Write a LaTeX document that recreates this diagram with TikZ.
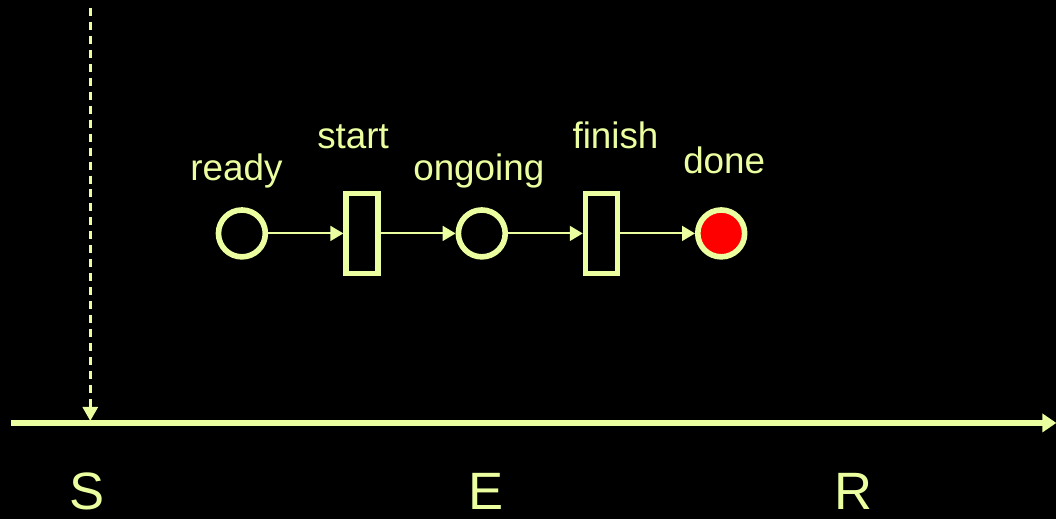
\documentclass[tikz,border=0pt]{standalone}
\usepackage{fontspec}
\setmainfont{Liberation Sans}
\usetikzlibrary{arrows.meta}
\definecolor{pale}{RGB}{235,255,160}
\definecolor{token}{RGB}{255,0,0}
\tikzset{
  place/.style={circle, draw=pale, line width=3.2pt, minimum size=0.94cm, inner sep=0pt},
  trans/.style={rectangle, draw=pale, line width=3.2pt, minimum width=0.64cm, minimum height=1.6cm, inner sep=0pt},
  arc/.style={pale, line width=1.1pt, -{Triangle[length=0.26cm,width=0.3cm]}},
  lbl/.style={text=pale, anchor=base, inner sep=0pt, font=\fontsize{21}{24}\selectfont},
  axislbl/.style={text=pale, anchor=base, inner sep=0pt, text depth=0pt, font=\fontsize{30}{36}\selectfont},
}
\begin{document}
\begin{tikzpicture}[x=0.02cm, y=-0.02cm]
        \fill[black] (0, 0) rectangle (1059, 520);
        % the net
        \node[place] (ready) at (242.5, 234) {};
        \node[trans] (start) at (363, 234) {};
        \node[place] (ongoing) at (483, 234) {};
        \node[trans] (finish) at (603, 234) {};
        \node[place, fill=token] (done) at (723, 234) {};
        \draw[arc] (ready) -- (start);
        \draw[arc] (start) -- (ongoing);
        \draw[arc] (ongoing) -- (finish);
        \draw[arc] (finish) -- (done);
        \node[lbl] (readylbl) at (237, 181) {ready};
        \node[lbl] (startlbl) at (354, 149) {start};
        \node[lbl] (ongoinglbl) at (480, 181) {ongoing};
        \node[lbl] (finishlbl) at (617, 149) {finish};
        \node[lbl] (donelbl) at (726, 174) {done};
        % time axis
        \coordinate (axisstart) at (11, 424);
        \coordinate (axisend) at (1059, 424);
        \draw[pale, line width=3pt, -{Triangle[length=0.28cm,width=0.36cm]}] (axisstart) -- (axisend);
        \coordinate (droptop) at (90.5, 8);
        \coordinate (dropend) at (90.5, 422);
        \draw[pale, line width=1.7pt, dash pattern=on 0.16cm off 0.12cm,
              -{Triangle[length=0.28cm,width=0.3cm]}] (droptop) -- (dropend);
        \node[axislbl] (S) at (87, 511) {S};
        \node[axislbl] (E) at (487, 511) {E};
        \node[axislbl] (R) at (856, 511) {R};
\end{tikzpicture}
\end{document}
